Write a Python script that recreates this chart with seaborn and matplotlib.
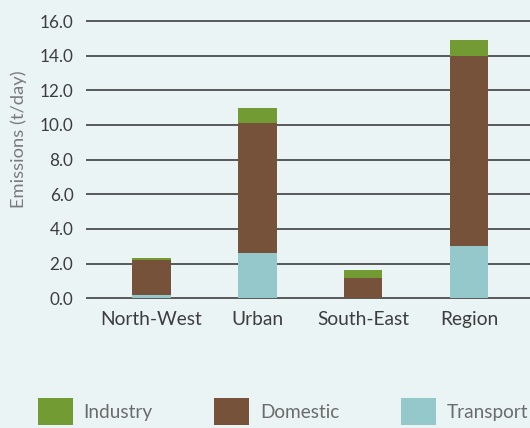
import matplotlib
matplotlib.use("Agg")
import matplotlib.pyplot as plt
import seaborn as sns
import numpy as np
import pandas as pd
from matplotlib.patches import Patch

categories = ["North-West", "Urban", "South-East", "Region"]
transport = [0.2, 2.6, 0.0, 3.0]
domestic = [2.0, 7.5, 1.2, 11.0]
industry = [0.15, 0.9, 0.45, 0.9]
series_names = ["Industry", "Domestic", "Transport"]
yticks = [0, 2, 4, 6, 8, 10, 12, 14, 16]

colors = {"Industry": "#739B33", "Domestic": "#76523A", "Transport": "#95C8CB"}
bg = "#EBF4F5"

sns.set_theme(style="white")
plt.rcParams["font.family"] = ["Lato", "DejaVu Sans"]

W, H = 530, 428
fig = plt.figure(figsize=(W / 100, H / 100), dpi=100)
fig.patch.set_facecolor(bg)

ppu = (298.3 - 21) / 16.0
pad_u = 0.1
ax_bottom = (H - 298.3) - pad_u * ppu
ax_height = 16 * ppu + 2 * pad_u * ppu
ax = fig.add_axes([86 / W, ax_bottom / H, (W - 86) / W, ax_height / H])
ax.set_facecolor(bg)

t = np.array(transport)
d = np.array(domestic)
i = np.array(industry)
df = pd.DataFrame({
    "cat": categories,
    "Industry": t + d + i,
    "Domestic": t + d,
    "Transport": t,
})

for name in series_names:
    sns.barplot(data=df, x="cat", y=name, color=colors[name], width=0.365,
                saturation=1, ax=ax, zorder=3, edgecolor="none", linewidth=0)

ax.set_xlim(-0.616, 3.575)
ax.set_ylim(-pad_u, 16 + pad_u)
ax.set_yticks(yticks)
ax.set_yticklabels([f"{v:.1f}" for v in yticks])
ax.yaxis.grid(True, color="#3f3f3f", linewidth=1.2, zorder=0)
ax.set_axisbelow(True)
for s in ax.spines.values():
    s.set_visible(False)
ax.tick_params(axis="y", length=0, pad=9, labelsize=12.3, labelcolor="#3d3d3d")
ax.tick_params(axis="x", length=0, pad=8, labelsize=13.8, labelcolor="#3d3d3d")
ax.set_xlabel("")
ax.set_ylabel("Emissions (t/day)", fontsize=13.2, color="#7a7a7a")
ax.yaxis.set_label_coords((27 - 86) / (W - 86), (300 - 139) / ax_height)

handles = [Patch(facecolor=colors[n], edgecolor="none", label=n) for n in series_names]
fs = 13.7
em = fs * 100 / 72
fig.legend(handles=handles, loc="upper left", bbox_to_anchor=(38 / W, 1 - 398 / H),
           ncol=3, frameon=False, fontsize=fs, labelcolor="#6b6b6b",
           handlelength=35 / em, handleheight=35 / em,
           handletextpad=0.55, columnspacing=3.25, borderpad=0, borderaxespad=0)

fig.savefig("out.png", dpi=100, facecolor=bg)
